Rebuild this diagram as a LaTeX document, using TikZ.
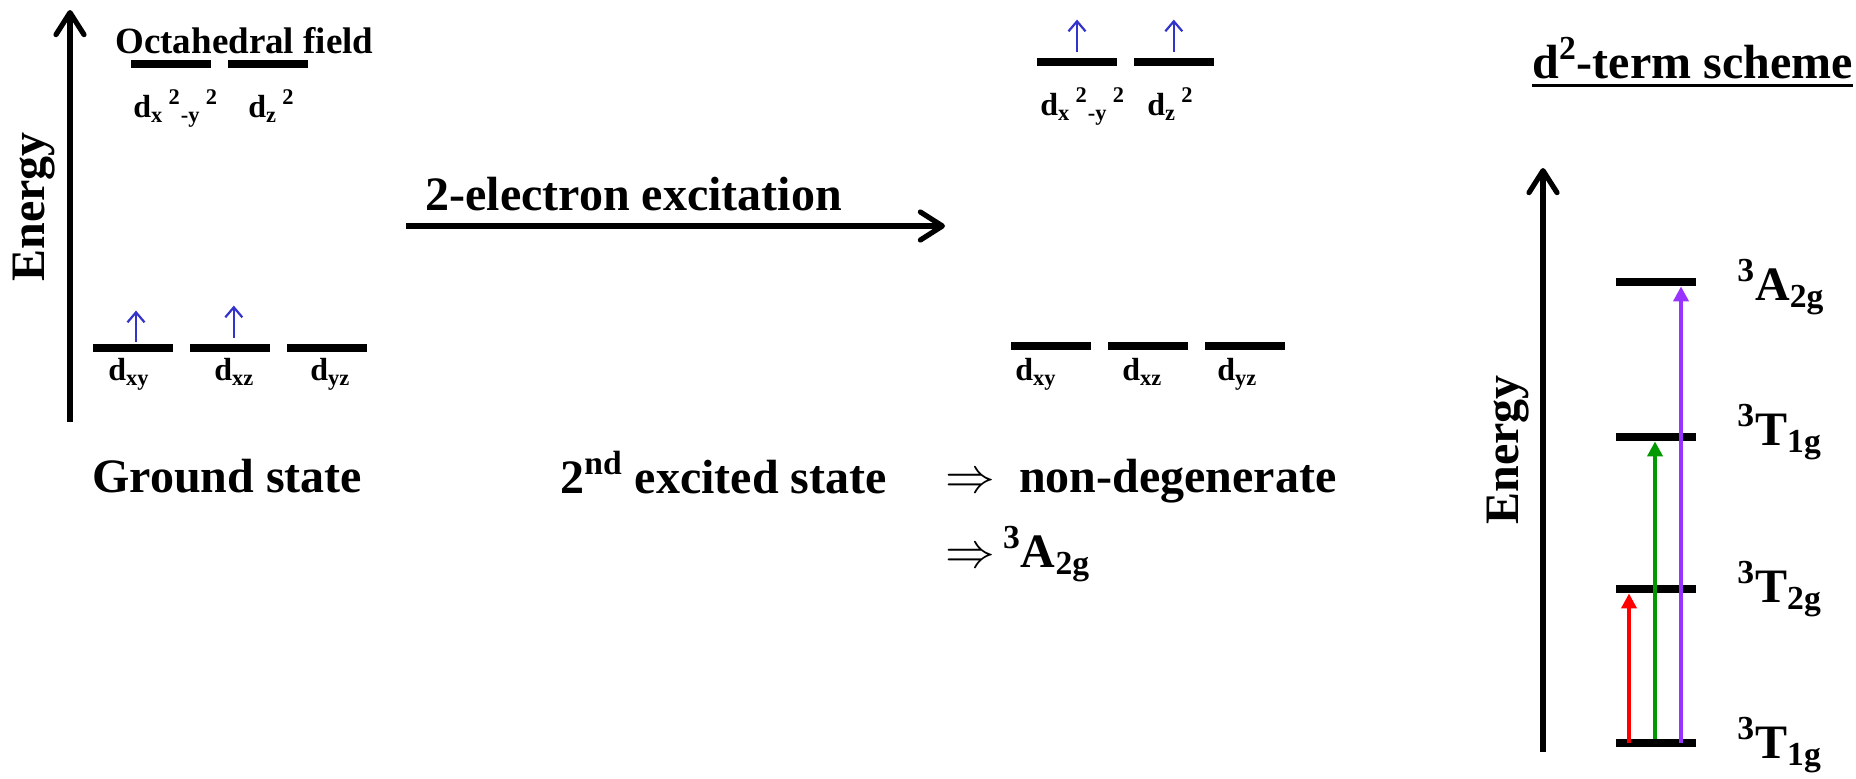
\documentclass[tikz,border=0pt]{standalone}
\usepackage{fontspec}
\setmainfont{Liberation Serif}
\usepackage{xcolor}
\usepackage{tikz}
\usetikzlibrary{arrows.meta, positioning}

\definecolor{spinblue}{RGB}{51,51,204}
\definecolor{tgreen}{RGB}{0,153,0}
\definecolor{tpurple}{RGB}{153,51,255}

\begin{document}
\begin{tikzpicture}[
    x=0.5pt, y=-0.5pt,
    level/.style={fill=black, rectangle, minimum width=40pt, minimum height=4pt, inner sep=0pt},
    orb/.style={anchor=base west, inner sep=0pt, font=\fontsize{16}{19}\selectfont\bfseries},
    big/.style={anchor=base west, inner sep=0pt, font=\fontsize{24}{28}\selectfont\bfseries},
    spin/.style={-{Straight Barb[length=5pt, width=8.5pt]}, line width=1.1pt, draw=spinblue},
    axis/.style={-{Straight Barb[length=11pt, width=14pt, round]}, line width=2.6pt},
    trans/.style={-{Triangle[length=7.5pt, width=7.5pt]}, line width=2.2pt}
]
\useasboundingbox (0,0) rectangle (1856,778);

% Ground state (left)
\coordinate (eaxisB) at (70,422);
\coordinate (eaxisT) at (70,10);
\draw [axis] (eaxisB) -- (eaxisT);
\node (energyL) [big, anchor=center, rotate=90] at (34,207) {Energy};
\node (octa) [anchor=base west, inner sep=0pt, font=\fontsize{18.5}{22}\selectfont\bfseries] at (115,53) {Octahedral field};

\node (egA) [level] at (171,64) {};
\node (egB) [level, right=8pt of egA] {};
\node [orb] at (133,117) {d\textsubscript{x}\,\textsuperscript{2}\textsubscript{-y}\,\textsuperscript{2}};
\node [orb] at (248,117) {d\textsubscript{z}\,\textsuperscript{2}};

\node (xyA) [level] at (133,348) {};
\node (xzA) [level, right=8pt of xyA] {};
\node (yzA) [level, right=8pt of xzA] {};
\node [orb] at (108,380) {d\textsubscript{xy}};
\node [orb] at (214,380) {d\textsubscript{xz}};
\node [orb] at (310,380) {d\textsubscript{yz}};

\draw [spin] ([xshift=1.5pt,yshift=1pt]xyA.north) -- ++(0,-31);
\draw [spin] ([xshift=2pt,yshift=3pt]xzA.north) -- ++(0,-32);

\node (ground) [big] at (92,492) {Ground state};

% 2-electron excitation (middle)
\coordinate (excA) at (406,226);
\coordinate (excB) at (945,226);
\draw [axis] (excA) -- (excB);
\node (excite) [big] at (425,210) {2-electron excitation};

\node (egC) [level] at (1077,62) {};
\node (egD) [level, right=8pt of egC] {};
\node [orb] at (1040,115) {d\textsubscript{x}\,\textsuperscript{2}\textsubscript{-y}\,\textsuperscript{2}};
\node [orb] at (1147,115) {d\textsubscript{z}\,\textsuperscript{2}};
\draw [spin] ([yshift=3pt]egC.north) -- ++(0,-32);
\draw [spin] ([yshift=3pt]egD.north) -- ++(0,-32);

\node (xyB) [level] at (1051,346) {};
\node (xzB) [level, right=8pt of xyB] {};
\node (yzB) [level, right=8pt of xzB] {};
\node [orb] at (1015,380) {d\textsubscript{xy}};
\node [orb] at (1122,380) {d\textsubscript{xz}};
\node [orb] at (1217,380) {d\textsubscript{yz}};

\node (second) [big] at (560,493) {2\textsuperscript{nd} excited state};
\node (nondeg) [big] at (945,492) {$\Rightarrow$\hspace{0.5em}non-degenerate};
\node (termA) [big] at (945,567) {$\Rightarrow$\,\textsuperscript{3}A\textsubscript{2g}};

% d2-term scheme (right)
\node (title) [big] at (1532,78) {d\textsuperscript{2}-term scheme};
\draw [line width=1.5pt] ([yshift=-3.5pt]title.base west) -- ([yshift=-3.5pt]title.base east);

\coordinate (taxisB) at (1543,752);
\coordinate (taxisT) at (1543,168);
\draw [axis] (taxisB) -- (taxisT);
\node (energyR) [big, anchor=center, rotate=90] at (1508,450) {Energy};

\node (a2g) [level] at (1656,282) {};
\node (t1u) [level] at (1656,437) {};
\node (t2g) [level] at (1656,589) {};
\node (t1g) [level] at (1656,743) {};
\node [big] at (1737,300) {\textsuperscript{3}A\textsubscript{2g}};
\node [big] at (1737,445) {\textsuperscript{3}T\textsubscript{1g}};
\node [big] at (1737,602) {\textsuperscript{3}T\textsubscript{2g}};
\node [big] at (1737,758) {\textsuperscript{3}T\textsubscript{1g}};

% Transitions
\draw [trans, red] ([xshift=-13.5pt]t1g.center) -- ([xshift=-13.5pt]t2g.south);
\draw [trans, tgreen] ([xshift=-0.5pt]t1g.north) -- ([xshift=-0.5pt]t1u.south);
\draw [trans, tpurple] ([xshift=12.5pt]t1g.center) -- ([xshift=12.5pt]a2g.south);

\end{tikzpicture}
\end{document}
